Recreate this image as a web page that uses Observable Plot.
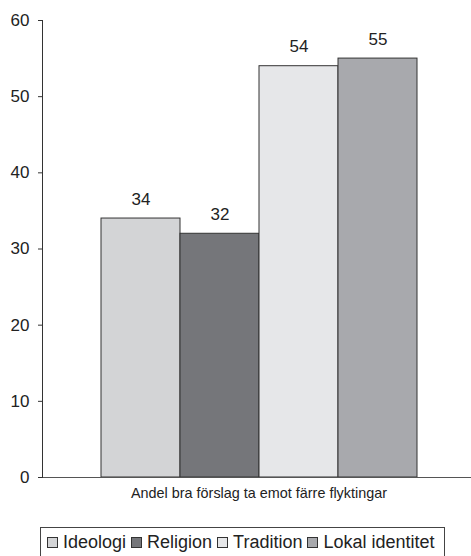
<!DOCTYPE html>
<html>
<head>
<meta charset="utf-8">
<script src="https://cdn.jsdelivr.net/npm/d3@7"></script>
<script src="https://cdn.jsdelivr.net/npm/@observablehq/plot@0.6"></script>
<style>
  html, body { margin: 0; padding: 0; background: #fff; }
  body { width: 471px; height: 556px; position: relative; overflow: hidden; font-family: "Liberation Sans", Arial, sans-serif; }
  #legend { position: absolute; left: 40px; top: 527px; width: 405px; height: 40px; border: 1px solid #444; box-sizing: border-box;
            display: flex; align-items: flex-start; padding-top: 4px; padding-left: 6px; font-size: 18px; color: #222; white-space: nowrap; }
  .item { display: flex; align-items: center; margin-right: 5px; }
  .sw { width: 9px; height: 9px; border: 1px solid #333; margin-right: 5px; }
</style>
</head>
<body>
<div id="chart"></div>
<div id="legend"></div>
<script>
const categories = ["Ideologi", "Religion", "Tradition", "Lokal identitet"];
const values = [34, 32, 54, 55];
const colors = ["#d3d4d6", "#75767a", "#e6e7e9", "#a8a9ad"];
const yTicks = [0, 10, 20, 30, 40, 50, 60];
const xLabel = "Andel bra förslag ta emot färre flyktingar";

const data = categories.map((c, i) => ({cat: c, value: values[i]}));

const chart = Plot.plot({
  width: 471,
  height: 515,
  marginLeft: 42,
  marginRight: 0,
  marginTop: 20,
  marginBottom: 38,
  style: {fontFamily: "Liberation Sans, Arial, sans-serif", color: "#222", background: "#fff"},
  x: {domain: categories, range: [101, 417], padding: 0, axis: null},
  y: {domain: [0, 60], ticks: yTicks, axis: null},
  color: {domain: categories, range: colors},
  marks: [
    Plot.barY(data, {x: "cat", y: "value", fill: "cat", stroke: "#333", strokeWidth: 1}),
    Plot.ruleY([0], {stroke: "#555", strokeWidth: 1}),
    Plot.frame({anchor: "left", stroke: "#333"}),
    Plot.axisY({ticks: yTicks, tickSize: 4, tickPadding: 9, fontSize: 17, label: null, stroke: "#333"}),
    Plot.text(data, {x: "cat", y: "value", text: d => String(d.value), dy: -14, lineAnchor: "bottom", fontSize: 17, fill: "#222"}),
    Plot.text([xLabel], {frameAnchor: "bottom", dx: 2, dy: 20, fontSize: 14.4, fill: "#222"})
  ]
});
document.getElementById("chart").appendChild(chart);

const legend = document.getElementById("legend");
categories.forEach((c, i) => {
  const item = document.createElement("div");
  item.className = "item";
  const sw = document.createElement("div");
  sw.className = "sw";
  sw.style.background = colors[i];
  const t = document.createElement("span");
  t.textContent = c;
  item.appendChild(sw);
  item.appendChild(t);
  legend.appendChild(item);
});
</script>
</body>
</html>
